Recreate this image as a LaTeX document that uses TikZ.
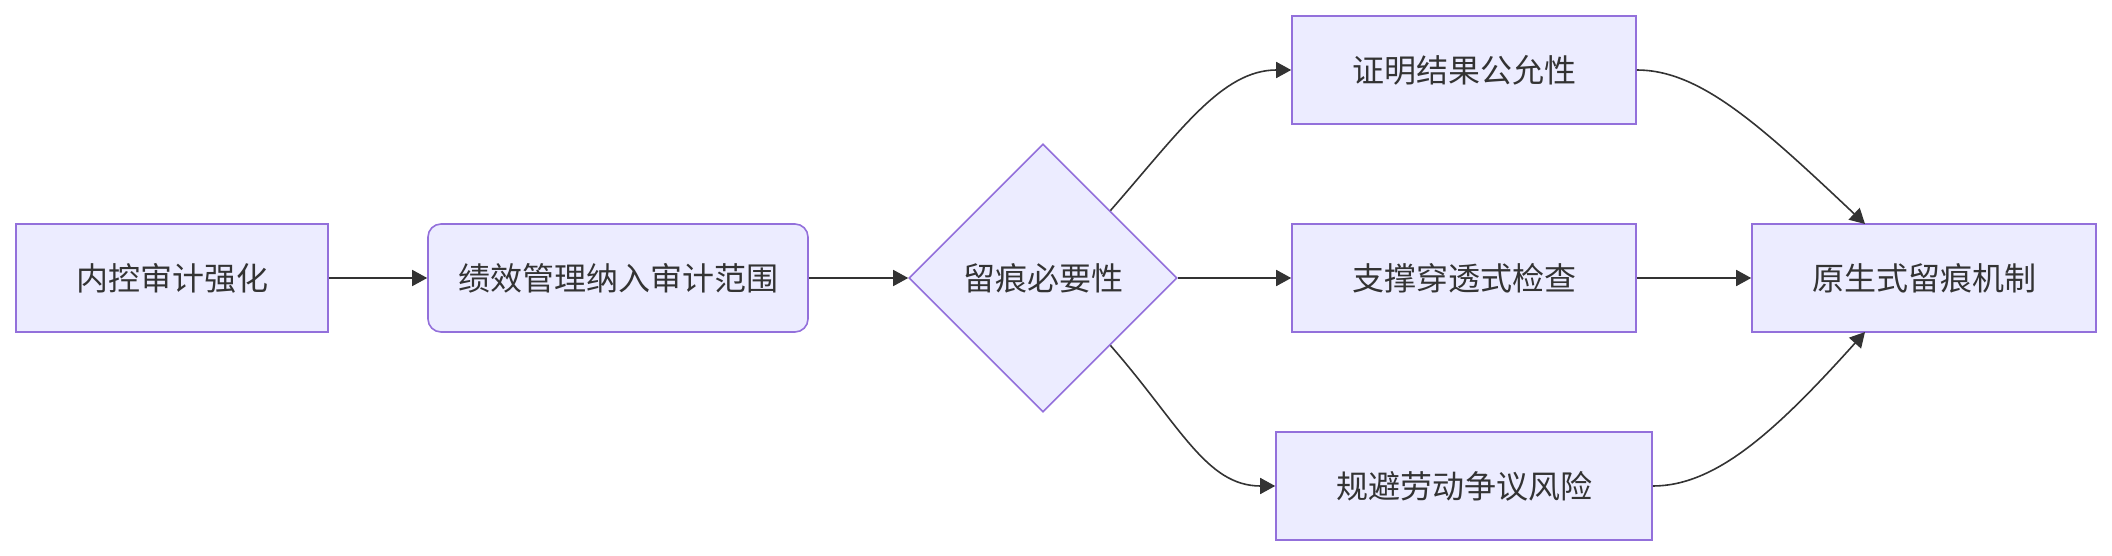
\documentclass[tikz,border=0pt]{standalone}
\usepackage{fontspec}
\setmainfont{Noto Sans CJK SC}
\usetikzlibrary{shapes.geometric,arrows.meta}
\definecolor{nodefill}{HTML}{ECECFF}
\definecolor{nodeborder}{HTML}{9370DB}
\definecolor{ink}{HTML}{333333}
\begin{document}
\begin{tikzpicture}[x=1pt,y=-1pt,
  box/.style={draw=nodeborder, fill=nodefill, line width=1.6pt, minimum width=#1,
    minimum height=108pt, inner sep=0pt, text=ink, font=\fontsize{32}{38}\selectfont},
  decision/.style={diamond, draw=nodeborder, fill=nodefill, line width=1.6pt,
    minimum width=268pt, minimum height=268pt, inner sep=0pt, text=ink,
    font=\fontsize{32}{38}\selectfont},
  conn/.style={draw=ink, line width=1.6pt, -{Triangle[length=15pt,width=16pt]}}]
\useasboundingbox (0,0) rectangle (2112,556);
\node[box=312pt] (A) at (172,278) {内控审计强化};
\node[box=380pt, rounded corners=13pt] (B) at (618,278) {绩效管理纳入审计范围};
\node[decision] (C) at (1043,278) {留痕必要性};
\node[box=344pt] (D) at (1464,70) {证明结果公允性};
\node[box=344pt] (E) at (1464,278) {支撑穿透式检查};
\node[box=376pt] (F) at (1464,486) {规避劳动争议风险};
\node[box=344pt] (G) at (1924,278) {原生式留痕机制};
\coordinate (Gtop) at (1865,224);
\coordinate (Gbot) at (1865,332);
\draw[conn] (A) -- (B);
\draw[conn] (B) -- (C);
\draw[conn] (C) -- (E);
\draw[conn] (E) -- (G);
\draw[conn] (C.north east) .. controls (1180,131) and (1222,70) .. (D.west);
\draw[conn] (C.south east) .. controls (1180,425) and (1206,486) .. (F.west);
\draw[conn] (D.east) .. controls (1700,70) and (1760,125) .. (Gtop);
\draw[conn] (F.east) .. controls (1716,486) and (1776,431) .. (Gbot);
\end{tikzpicture}
\end{document}
